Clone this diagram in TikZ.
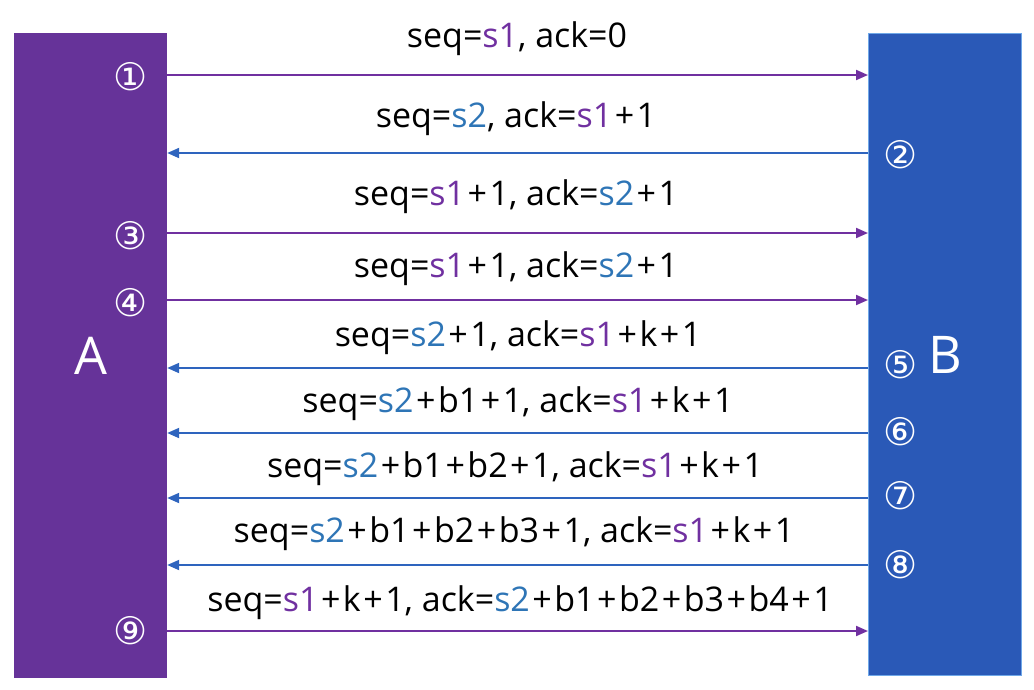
\documentclass[tikz,border=0pt]{standalone}
\usepackage{fontspec}
\setmainfont{Open Sans}
\newfontfamily\circfont{DejaVu Sans}
\usetikzlibrary{arrows.meta}
\definecolor{barA}{HTML}{663399}
\definecolor{barB}{HTML}{2A59B7}
\definecolor{edgeB}{HTML}{6FA8E8}
\definecolor{msgA}{HTML}{7030A0}
\definecolor{msgB}{HTML}{2E64BE}
\definecolor{txtA}{HTML}{7030A0}
\definecolor{txtB}{HTML}{2E75B6}
\newcommand{\sA}{\textcolor{txtA}{s1}}
\newcommand{\sB}{\textcolor{txtB}{s2}}
\newcommand{\pl}{\kern2.5pt+\kern2.5pt}

\begin{document}
\begin{tikzpicture}[x=1pt,y=-1pt,
  bar/.style={rectangle, inner sep=0pt, text=white, font=\fontsize{52}{52}\selectfont},
  toB/.style={draw=msgA, line width=2pt, -{Triangle[length=12pt,width=10pt]}},
  toA/.style={draw=msgB, line width=2pt, -{Triangle[length=12pt,width=10pt]}},
  msg/.style={anchor=base, inner sep=0pt, font=\fontsize{34}{34}\selectfont},
  num/.style={inner sep=0pt, text=white, font=\circfont\fontsize{38}{38}\selectfont}]
  \useasboundingbox (0,0) rectangle (1034,689);

  % hosts
  \node[bar, fill=barA, minimum width=153pt, minimum height=645pt] (A) at (90.5,355.5) {A};
  \node[bar, fill=barB, draw=edgeB, line width=1pt, minimum width=153pt, minimum height=642pt] (B) at (945,354.5) {B};

  % segments A -> B
  \foreach \y in {75,233,300,631}
    \draw[toB] (A.east |- 0,\y) -- (B.west |- 0,\y);
  % segments B -> A
  \foreach \y in {153,368,433,498,565}
    \draw[toA] (B.west |- 0,\y) -- (A.east |- 0,\y);

  % segment labels
  \node[msg] (m1) at (517,47) {seq=\sA, ack=0};
  \node[msg] (m2) at (516,127) {seq=\sB, ack=\sA\pl1};
  \node[msg] (m3) at (516,205) {seq=\sA\pl1, ack=\sB\pl1};
  \node[msg] (m4) at (516,277) {seq=\sA\pl1, ack=\sB\pl1};
  \node[msg] (m5) at (518,346) {seq=\sB\pl1, ack=\sA\pl k\pl1};
  \node[msg] (m6) at (518,412) {seq=\sB\pl b1\pl1, ack=\sA\pl k\pl1};
  \node[msg] (m7) at (515,477) {seq=\sB\pl b1\pl b2\pl1, ack=\sA\pl k\pl1};
  \node[msg] (m8) at (514,542) {seq=\sB\pl b1\pl b2\pl b3\pl1, ack=\sA\pl k\pl1};
  \node[msg] (m9) at (520,611) {seq=\sA\pl k\pl1, ack=\sB\pl b1\pl b2\pl b3\pl b4\pl1};

  % step numbers
  \node[num] (n1) at (131,77) {①};
  \node[num] (n2) at (901,155) {②};
  \node[num] (n3) at (131,236) {③};
  \node[num] (n4) at (131,303) {④};
  \node[num] (n5) at (901,365) {⑤};
  \node[num] (n6) at (901,432) {⑥};
  \node[num] (n7) at (901,496) {⑦};
  \node[num] (n8) at (901,565) {⑧};
  \node[num] (n9) at (131,631) {⑨};
\end{tikzpicture}
\end{document}
